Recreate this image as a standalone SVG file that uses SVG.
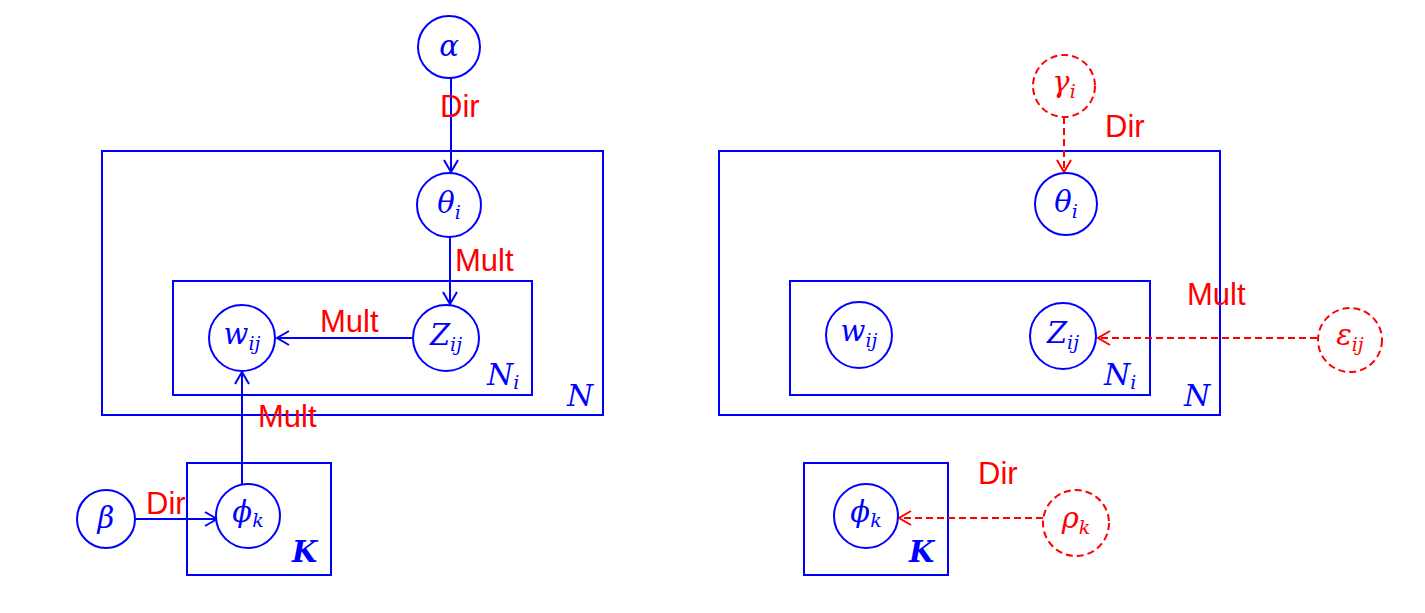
<svg xmlns="http://www.w3.org/2000/svg" width="1425" height="613" viewBox="0 0 1425 613">
<defs>
<marker id="ab" markerWidth="18" markerHeight="18" refX="14" refY="9" orient="auto" markerUnits="userSpaceOnUse"><path d="M2,2 L14,9 L2,16" fill="none" stroke="#0000ff" stroke-width="2"/></marker>
<marker id="ar" markerWidth="18" markerHeight="18" refX="14" refY="9" orient="auto" markerUnits="userSpaceOnUse"><path d="M2,2 L14,9 L2,16" fill="none" stroke="#ff0000" stroke-width="2"/></marker>
</defs>
<style>
.plate{fill:none;stroke:#0000ff;stroke-width:2}
.node{fill:#fff;stroke:#0000ff;stroke-width:2}
.lat{fill:#fff;stroke:#ff0000;stroke-width:2;stroke-dasharray:7,4}
.m{font-family:"DejaVu Serif","Liberation Serif",serif;font-style:italic;font-size:29px;fill:#0000ff}
.mr{font-family:"DejaVu Serif","Liberation Serif",serif;font-style:italic;font-size:29px;fill:#ff0000}
.pl{font-family:"DejaVu Serif","Liberation Serif",serif;font-style:italic;font-size:30px;fill:#0000ff}
.pk{font-family:"DejaVu Serif","Liberation Serif",serif;font-style:italic;font-weight:bold;font-size:29px;fill:#0000ff}
.s{font-size:19px}
.lab{font-family:"Liberation Sans",Arial,sans-serif;font-size:31px;fill:#ff0000}
.eb{fill:none;stroke:#0000ff;stroke-width:2}
.er{fill:none;stroke:#ff0000;stroke-width:2;stroke-dasharray:7,4}
</style>
<rect width="1425" height="613" fill="#fff"/>
<g id="plates">
<rect class="plate" x="102" y="151" width="501" height="264"/>
<rect class="plate" x="173" y="281" width="359" height="114"/>
<rect class="plate" x="187" y="463" width="144" height="112"/>
<rect class="plate" x="719" y="151" width="501" height="264"/>
<rect class="plate" x="790" y="281" width="360" height="114"/>
<rect class="plate" x="804" y="463" width="144" height="112"/>
<text class="pl" x="567" y="406">N</text>
<text class="pl" x="487" y="385">N<tspan class="s" dy="4">i</tspan></text>
<text class="pk" x="292" y="562">K</text>
<text class="pl" x="1184" y="406">N</text>
<text class="pl" x="1104" y="385">N<tspan class="s" dy="4">i</tspan></text>
<text class="pk" x="909" y="562">K</text>
</g>
<g id="connectors">
<line class="eb" x1="451" y1="78" x2="451" y2="172" marker-end="url(#ab)"/>
<line class="eb" x1="450" y1="237" x2="450" y2="304" marker-end="url(#ab)"/>
<line class="eb" x1="413" y1="338" x2="277" y2="338" marker-end="url(#ab)"/>
<line class="eb" x1="242" y1="484" x2="242" y2="372" marker-end="url(#ab)"/>
<line class="eb" x1="135" y1="519" x2="217" y2="519" marker-end="url(#ab)"/>
<line class="er" x1="1064" y1="117" x2="1064" y2="172" marker-end="url(#ar)"/>
<line class="er" x1="1317" y1="338" x2="1098" y2="338" marker-end="url(#ar)"/>
<line class="er" x1="1043" y1="518" x2="899" y2="518" marker-end="url(#ar)"/>
<text class="lab" x="440" y="117">Dir</text>
<text class="lab" x="455" y="271">Mult</text>
<text class="lab" x="320" y="332">Mult</text>
<text class="lab" x="258" y="427">Mult</text>
<text class="lab" x="146" y="514">Dir</text>
<text class="lab" x="1105" y="137">Dir</text>
<text class="lab" x="1187" y="305">Mult</text>
<text class="lab" x="978" y="484">Dir</text>
</g>
<g id="alpha"><circle class="node" cx="449" cy="47" r="31"/><text class="m" x="449" y="56" text-anchor="middle">α</text></g>
<g id="theta-l"><circle class="node" cx="449" cy="205" r="32"/><text class="m" x="449" y="213" text-anchor="middle">θ<tspan class="s" dy="6">i</tspan></text></g>
<g id="w-l"><circle class="node" cx="242" cy="338" r="33"/><text class="m" x="242" y="344" text-anchor="middle">w<tspan class="s" dy="6">ij</tspan></text></g>
<g id="z-l"><circle class="node" cx="446" cy="338" r="33"/><text class="m" x="446" y="345" text-anchor="middle">Z<tspan class="s" dy="6">ij</tspan></text></g>
<g id="phi-l"><circle class="node" cx="248" cy="516" r="32"/><text class="m" x="248" y="522" text-anchor="middle">ϕ<tspan class="s" dy="5">k</tspan></text></g>
<g id="beta"><circle class="node" cx="106" cy="519" r="29"/><text class="m" x="106" y="528" text-anchor="middle">β</text></g>
<g id="gamma"><circle class="lat" cx="1064" cy="86" r="31"/><text class="mr" x="1064" y="92" text-anchor="middle">γ<tspan class="s" dy="6">i</tspan></text></g>
<g id="theta-r"><circle class="node" cx="1066" cy="204" r="31"/><text class="m" x="1066" y="212" text-anchor="middle">θ<tspan class="s" dy="6">i</tspan></text></g>
<g id="w-r"><circle class="node" cx="859" cy="335" r="33"/><text class="m" x="859" y="341" text-anchor="middle">w<tspan class="s" dy="6">ij</tspan></text></g>
<g id="z-r"><circle class="node" cx="1063" cy="336" r="33"/><text class="m" x="1063" y="343" text-anchor="middle">Z<tspan class="s" dy="6">ij</tspan></text></g>
<g id="eps"><circle class="lat" cx="1350" cy="340" r="32"/><text class="mr" x="1350" y="345" text-anchor="middle">ε<tspan class="s" dy="6">ij</tspan></text></g>
<g id="phi-r"><circle class="node" cx="866" cy="516" r="32"/><text class="m" x="866" y="522" text-anchor="middle">ϕ<tspan class="s" dy="5">k</tspan></text></g>
<g id="rho"><circle class="lat" cx="1076" cy="523" r="33"/><text class="mr" x="1076" y="528" text-anchor="middle">ρ<tspan class="s" dy="6">k</tspan></text></g>
</svg>
